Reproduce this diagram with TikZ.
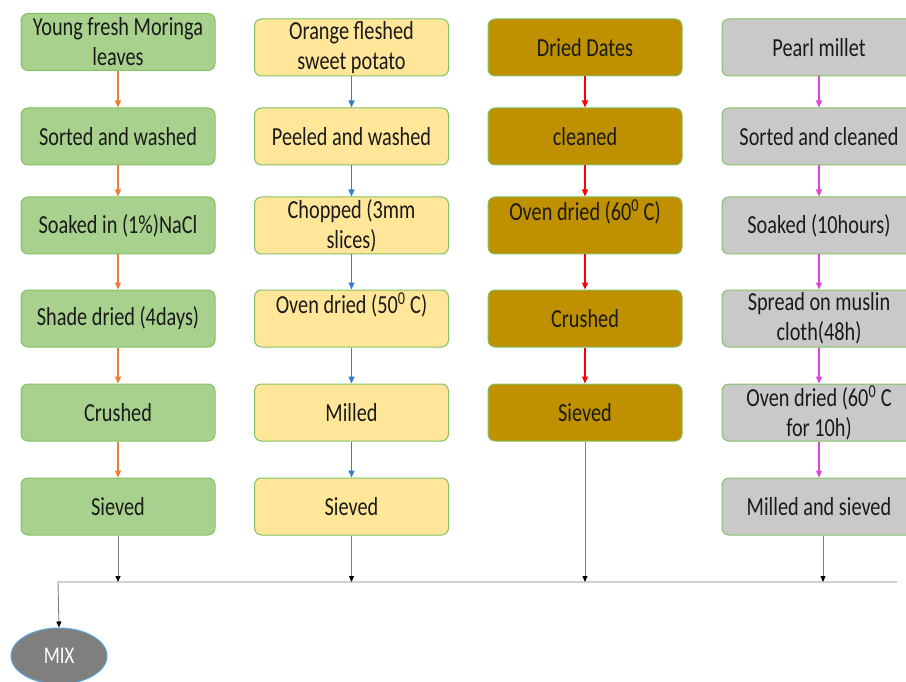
\documentclass[tikz,border=0pt]{standalone}
\usepackage{fontspec}
\setmainfont{Carlito}[FakeStretch=0.78]
\usetikzlibrary{arrows.meta,shapes.geometric}
\definecolor{gfill}{HTML}{A9D18E}
\definecolor{yfill}{HTML}{FFE699}
\definecolor{bfill}{HTML}{BF9000}
\definecolor{sfill}{HTML}{C9C9C9}
\definecolor{bord}{HTML}{82C264}
\definecolor{corange}{HTML}{ED7D31}
\definecolor{cblue}{HTML}{2E80CC}
\definecolor{cred}{HTML}{FF0000}
\definecolor{cmag}{HTML}{DD44DD}
\definecolor{cline}{HTML}{7F7F7F}
\definecolor{mixfill}{HTML}{7F7F7F}
\definecolor{mixbord}{HTML}{5BA8DD}
\definecolor{txt}{HTML}{1A1A1A}
\begin{document}
\begin{tikzpicture}[x=1pt,y=-1pt,
  box/.style={draw=bord, line width=1pt, rounded corners=7pt, minimum width=194pt,
    minimum height=57pt, inner sep=0pt, align=center, text=txt,
    font=\fontsize{26}{30}\selectfont},
  gbox/.style={box, fill=gfill},
  ybox/.style={box, fill=yfill},
  bbox/.style={box, fill=bfill},
  sbox/.style={box, fill=sfill},
  flow/.style={line width=1.3pt, -{Triangle[length=7pt,width=6pt]}},
  conn/.style={draw=cline, line width=0.9pt, -{Triangle[length=6pt,width=5pt,color=black]}}]
\clip (0,0) rectangle (906,682);
% column 1
\node[gbox] (a1) at (118,42) {Young fresh Moringa\\leaves};
\node[gbox] (a2) at (118,136.5) {Sorted and washed};
\node[gbox] (a3) at (118,225.5) {Soaked in (1\%)NaCl};
\node[gbox] (a4) at (118,318.5) {Shade dried (4days)};
\node[gbox] (a5) at (118,412.5) {Crushed};
\node[gbox] (a6) at (118,506.5) {Sieved};
% column 2
\node[ybox] (b1) at (351.5,47.5) {Orange fleshed\\sweet potato};
\node[ybox] (b2) at (351.5,136.5) {Peeled and washed};
\node[ybox] (b3) at (351.5,225.5) {Chopped (3mm\\slices)};
\node[ybox] (b4) at (351.5,318.5) {Oven dried (50\textsuperscript{0} C)\\\mbox{}};
\node[ybox] (b5) at (351.5,412.5) {Milled};
\node[ybox] (b6) at (351.5,506.5) {Sieved};
% column 3
\node[bbox] (c1) at (585,47.5) {Dried Dates};
\node[bbox] (c2) at (585,136.5) {cleaned};
\node[bbox] (c3) at (585,225.5) {Oven dried (60\textsuperscript{0} C)\\\mbox{}};
\node[bbox] (c4) at (585,318.5) {Crushed};
\node[bbox] (c5) at (585,412.5) {Sieved};
% column 4
\node[sbox] (d1) at (819,47.5) {Pearl millet};
\node[sbox] (d2) at (819,136.5) {Sorted and cleaned};
\node[sbox] (d3) at (819,225.5) {Soaked (10hours)};
\node[sbox] (d4) at (819,318.5) {Spread on muslin\\cloth(48h)};
\node[sbox] (d5) at (819,412.5) {Oven dried (60\textsuperscript{0} C\\for 10h)};
\node[sbox] (d6) at (819,506.5) {Milled and sieved};
% mix
\node[ellipse, fill=mixfill, draw=mixbord, line width=1pt, minimum width=96pt,
  minimum height=56pt, inner sep=0pt, text=white, font=\fontsize{24}{28}\selectfont]
  (mix) at (59,656) {MIX};
% flow arrows
\foreach \u/\v in {a1/a2,a2/a3,a3/a4,a4/a5,a5/a6} \draw[flow, draw=corange, color=corange] (\u) -- (\v);
\foreach \u/\v in {b1/b2,b2/b3,b3/b4,b4/b5,b5/b6} \draw[flow, draw=cblue, color=cblue] (\u) -- (\v);
\foreach \u/\v in {c1/c2,c2/c3,c3/c4,c4/c5} \draw[flow, draw=cred, color=cred] (\u) -- (\v);
\foreach \u/\v in {d1/d2,d2/d3,d3/d4,d4/d5,d5/d6} \draw[flow, draw=cmag, color=cmag] (\u) -- (\v);
% bus
\coordinate (busL) at (58,582);
\coordinate (busR) at (897,582);
\draw[conn] (a6.south) -- (a6.south |- busL);
\draw[conn] (b6.south) -- (b6.south |- busL);
\draw[conn] (c5.south) -- (c5.south |- busL);
\draw[conn] ([xshift=4pt]d6.south) -- ([xshift=4pt]d6.south |- busL);
\draw[conn] (busR) -- (busL) -- (mix.north);
\end{tikzpicture}
\end{document}
